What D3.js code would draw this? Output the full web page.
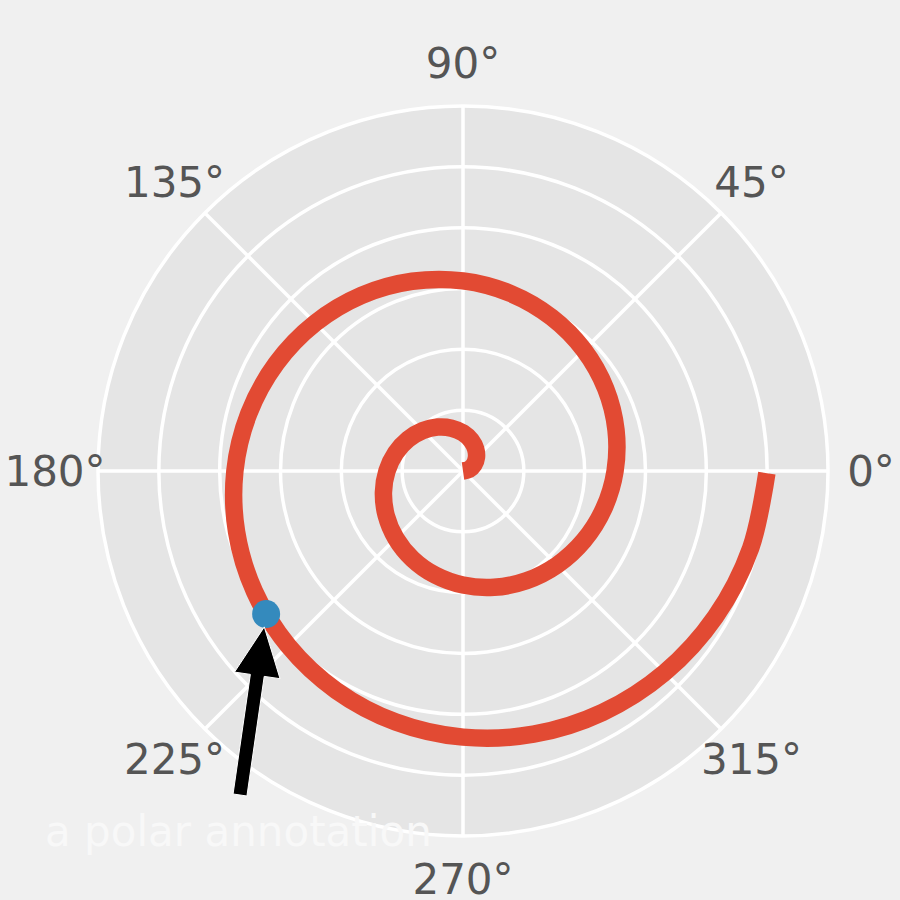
<!DOCTYPE html>
<html><head><meta charset="utf-8">
<script src="https://cdn.jsdelivr.net/npm/d3@7"></script>
<style>body{margin:0;background:#f0f0f0;}svg{display:block;}</style>
</head><body>
<script>
// Spiral samples: theta (degrees) and radius
const thetaDeg = [0,15,30,45,60,75,90,105,120,135,150,165,180,195,210,225,240,255,270,285,300,315,330,345,360,375,390,405,420,435,450,465,480,495,510,525,540,555,570,585,600,615,630,645,660,675,690,705,719.6];
const rVals = [0,0.0208,0.0417,0.0625,0.0833,0.1042,0.125,0.1458,0.1667,0.1875,0.2083,0.2292,0.25,0.2708,0.2917,0.3125,0.3333,0.3542,0.375,0.3958,0.4167,0.4375,0.4583,0.4792,0.5,0.5208,0.5417,0.5625,0.5833,0.6042,0.625,0.6458,0.6667,0.6875,0.7083,0.7292,0.75,0.7708,0.7917,0.8125,0.8333,0.8542,0.875,0.8958,0.9167,0.9375,0.9583,0.9792,0.999];
const pointTheta = [576];
const pointR = [0.8];
const radialTicks = [0.2,0.4,0.6,0.8,1.0];
const rMax = 1.2;
const angleTicks = [0,45,90,135,180,225,270,315];
const angleLabels = ["0°","45°","90°","135°","180°","225°","270°","315°"];
const annotationText = "a polar annotation";

const W = 900, H = 900, cx = 463, cy = 471, R = 365;
const svg = d3.select("body").append("svg").attr("width", W).attr("height", H);
svg.append("rect").attr("width", W).attr("height", H).attr("fill", "#f0f0f0");
const g = svg.append("g").attr("transform", `translate(${cx},${cy})`);
const rScale = d3.scaleLinear().domain([0, rMax]).range([0, R]);
const toRad = d => d * Math.PI / 180;
const px = (t, r) => rScale(r) * Math.cos(toRad(t));
const py = (t, r) => -rScale(r) * Math.sin(toRad(t));

g.append("circle").attr("r", R).attr("fill", "#E5E5E5");
g.selectAll("circle.grid").data(radialTicks).join("circle").attr("class","grid")
  .attr("r", d => rScale(d)).attr("fill","none").attr("stroke","#fff").attr("stroke-width",3.5);
g.selectAll("line.spoke").data(angleTicks).join("line").attr("class","spoke")
  .attr("x1",0).attr("y1",0).attr("x2", d => px(d, rMax)).attr("y2", d => py(d, rMax))
  .attr("stroke","#fff").attr("stroke-width",3.5);
g.append("circle").attr("r", R).attr("fill","none").attr("stroke","#fff").attr("stroke-width",3.5);

g.selectAll("text.tl").data(angleTicks).join("text").attr("class","tl")
  .attr("x", d => 408 * Math.cos(toRad(d))).attr("y", d => -408 * Math.sin(toRad(d)))
  .attr("text-anchor","middle").attr("dominant-baseline","central")
  .attr("font-family","DejaVu Sans").attr("font-size",42).attr("fill","#555555")
  .text((d,i) => angleLabels[i]);

const spiral = thetaDeg.map((t,i) => [t, rVals[i]]);
const line = d3.lineRadial().angle(d => Math.PI/2 - toRad(d[0])).radius(d => rScale(d[1])).curve(d3.curveCatmullRom);
g.append("path").attr("d", line(spiral)).attr("fill","none").attr("stroke","#E24A33")
  .attr("stroke-width",17.5).attr("stroke-linecap","butt").attr("stroke-linejoin","round");

const P = [px(pointTheta[0], pointR[0]), py(pointTheta[0], pointR[0])];
g.append("circle").attr("cx", P[0]).attr("cy", P[1]).attr("r", 14).attr("fill","#348ABD");

// arrow
const tail = [240 - cx, 795 - cy];
const dx = tail[0]-P[0], dy = tail[1]-P[1], L = Math.hypot(dx,dy);
const ux = dx/L, uy = dy/L;
const tip = [P[0] + ux*13, P[1] + uy*13];
const len = Math.hypot(tail[0]-tip[0], tail[1]-tip[1]);
const nx = -uy, ny = ux;
const hw = 7, hh = 23, hl = 49;
const pts = [
  [0,0],[hl,hh],[hl,hw],[len,hw],[len,-hw],[hl,-hw],[hl,-hh]
].map(([a,b]) => [tip[0] + ux*a + nx*b, tip[1] + uy*a + ny*b]);
g.append("polygon").attr("points", pts.map(p => p.join(",")).join(" "))
  .attr("fill","#000").attr("stroke","#fff").attr("stroke-width",1);

svg.append("text").attr("x",45).attr("y",846).attr("font-family","DejaVu Sans")
  .attr("font-size",42).attr("fill","#f8f8f8").text(annotationText);
</script>
</body></html>
